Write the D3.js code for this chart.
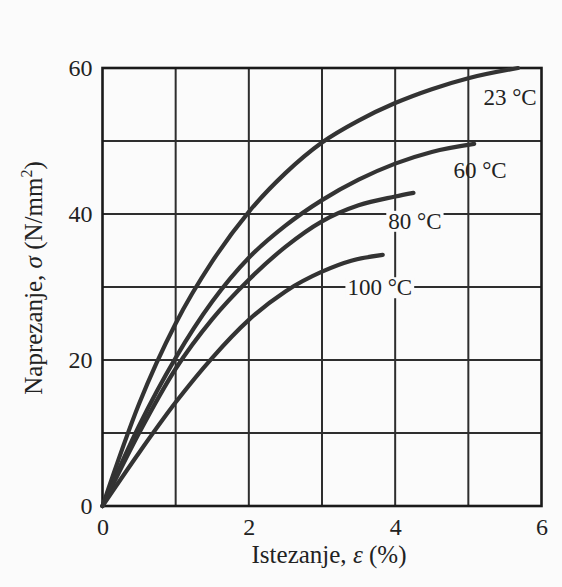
<!DOCTYPE html>
<html><head><meta charset="utf-8">
<script src="https://cdn.jsdelivr.net/npm/d3@7"></script>
<style>
html,body{margin:0;padding:0;background:#fbfbfb;}
svg{display:block;font-family:"Liberation Serif","Times New Roman",serif;}
</style></head>
<body>
<svg id="c" width="562" height="587"></svg>
<script>
// ---- data ----
const xTicks = [0, 2, 4, 6];
const yTicks = [0, 20, 40, 60];
const seriesNames = ["23 °C", "60 °C", "80 °C", "100 °C"];
const strain23 = [0, 0.5, 1.0, 1.5, 2.0, 2.5, 3.0, 3.5, 4.0, 4.5, 5.0, 5.68];
const stress23 = [0, 14, 25, 33.5, 40.3, 45.6, 49.8, 52.8, 55.2, 57.1, 58.6, 60];
const strain60 = [0, 0.5, 1.0, 1.5, 2.0, 2.5, 3.0, 3.5, 4.0, 4.5, 5.08];
const stress60 = [0, 11, 20.3, 28, 34, 38.4, 41.9, 44.7, 46.9, 48.5, 49.6];
const strain80 = [0, 0.5, 1.0, 1.5, 2.0, 2.5, 3.0, 3.5, 4.0, 4.25];
const stress80 = [0, 10, 18.8, 25.6, 31, 35.5, 39, 41.2, 42.4, 42.9];
const strain100 = [0, 0.5, 1.0, 1.5, 2.0, 2.5, 3.0, 3.4, 3.83];
const stress100 = [0, 7.3, 14.2, 20.3, 25.5, 29.4, 32.1, 33.6, 34.4];
// label anchors (data units)
const labelX = [5.57, 5.16, 4.27, 3.79];
const labelY = [55.9, 46.0, 39.0, 29.9];

const series = [
  {name: seriesNames[0], xs: strain23, ys: stress23},
  {name: seriesNames[1], xs: strain60, ys: stress60},
  {name: seriesNames[2], xs: strain80, ys: stress80},
  {name: seriesNames[3], xs: strain100, ys: stress100}
];

const svg = d3.select("#c");
const x = d3.scaleLinear().domain([0, 6]).range([102.5, 541.5]);
const y = d3.scaleLinear().domain([0, 60]).range([506, 68]);

// grid
const g = svg.append("g");
g.selectAll("line.vx").data(d3.range(1, 6)).join("line")
  .attr("x1", d => x(d)).attr("x2", d => x(d))
  .attr("y1", y(0)).attr("y2", y(60))
  .attr("stroke", "#2e2e2e").attr("stroke-width", 2);
g.selectAll("line.hy").data(d3.range(10, 60, 10)).join("line")
  .attr("x1", x(0)).attr("x2", x(6))
  .attr("y1", d => y(d)).attr("y2", d => y(d))
  .attr("stroke", "#2e2e2e").attr("stroke-width", 2);

// frame
svg.append("rect")
  .attr("x", x(0)).attr("y", y(60))
  .attr("width", x(6) - x(0)).attr("height", y(0) - y(60))
  .attr("fill", "none").attr("stroke", "#1a1a1a").attr("stroke-width", 2.6);

// curves
const line = d3.line().x(d => x(d[0])).y(d => y(d[1])).curve(d3.curveMonotoneX);
svg.selectAll("path.s").data(series).join("path")
  .attr("d", s => line(s.xs.map((v, i) => [v, s.ys[i]])))
  .attr("fill", "none").attr("stroke", "#333").attr("stroke-width", 4.2)
  .attr("stroke-linecap", "round");

// labels on curves
series.forEach((s, i) => {
  const t = svg.append("text")
    .attr("x", x(labelX[i])).attr("y", y(labelY[i]))
    .attr("text-anchor", "middle").attr("dominant-baseline", "central")
    .attr("font-size", 23).attr("fill", "#222").text(s.name);
  if (i >= 2) {
    const bb = t.node().getBBox();
    svg.insert("rect", "text")
      .attr("x", bb.x - 2).attr("y", bb.y + 2)
      .attr("width", bb.width + 4).attr("height", bb.height - 4)
      .attr("fill", "#fbfbfb");
  }
});

// axes
const xAxis = d3.axisBottom(x).tickValues(xTicks).tickSize(0).tickPadding(12).tickFormat(d3.format("d"));
const yAxis = d3.axisLeft(y).tickValues(yTicks).tickSize(0).tickPadding(10).tickFormat(d3.format("d"));
const xa = svg.append("g").attr("transform", `translate(0,${y(0)})`).call(xAxis);
const ya = svg.append("g").attr("transform", `translate(${x(0)},0)`).call(yAxis);
[xa, ya].forEach(a => {
  a.select(".domain").remove();
  a.selectAll("text").attr("font-size", 24).attr("fill", "#222")
    .attr("font-family", "Liberation Serif, serif");
});

// axis titles
const xt = svg.append("text").attr("x", 329).attr("y", 563)
  .attr("text-anchor", "middle").attr("font-size", 25).attr("fill", "#222");
xt.append("tspan").text("Istezanje, ");
xt.append("tspan").attr("font-style", "italic").text("ε");
xt.append("tspan").text(" (%)");

const yt = svg.append("text").attr("transform", "translate(42,278) rotate(-90)")
  .attr("text-anchor", "middle").attr("font-size", 25).attr("fill", "#222");
yt.append("tspan").text("Naprezanje, ");
yt.append("tspan").attr("font-style", "italic").text("σ");
yt.append("tspan").text(" (N/mm");
yt.append("tspan").attr("font-size", 16).attr("dy", -10).text("2");
yt.append("tspan").attr("dy", 10).text(")");
</script>
</body></html>
